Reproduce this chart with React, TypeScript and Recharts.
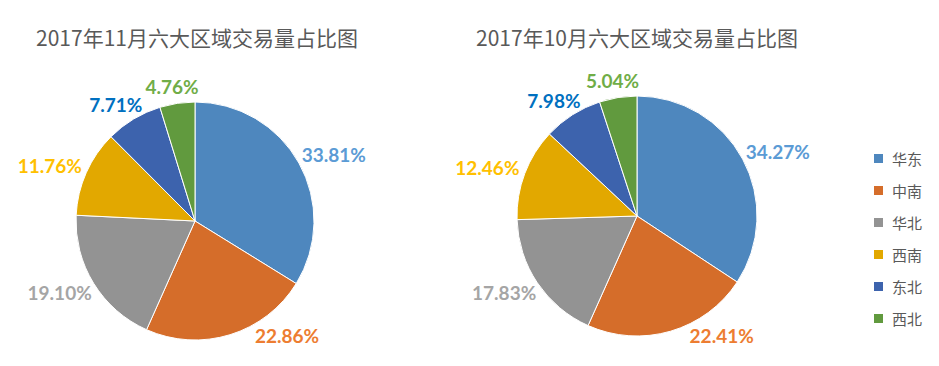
import React from 'react';
import { PieChart, Pie, Cell, Legend } from 'recharts';

// region names, in the order Excel draws them (clockwise from 12 o'clock)
const regions = ['华东', '中南', '华北', '西南', '东北', '西北'];

// share of trade volume, %
const novValues = [33.81, 22.86, 19.1, 11.76, 7.71, 4.76];
const octValues = [34.27, 22.41, 17.83, 12.46, 7.98, 5.04];

const titles = ['2017年11月六大区域交易量占比图', '2017年10月六大区域交易量占比图'];

const sliceColors = ['#4E87BE', '#D56D2A', '#939393', '#E2A800', '#3D63AD', '#619A3E'];
const labelColors = ['#5B9BD5', '#ED7D31', '#A5A5A5', '#FFC000', '#0070C0', '#70AD47'];

const RADIAN = Math.PI / 180;
const LABEL_FONT = 19;
const LABEL_BOTTOM = 335; // keep labels inside the plot area, like Excel's best fit

const toRows = (values: number[]) => regions.map((name, i) => ({ name, value: values[i] }));

// outside-end label, nudged back up along the rim when it would drop below the plot
const renderLabel = (props: any) => {
    const { cx, cy, midAngle, outerRadius, index, value } = props;
    const text = `${Number(value).toFixed(2)}%`;
    const w = text.length * LABEL_FONT * 0.56;
    const h = 18;
    const cos = Math.cos(-midAngle * RADIAN);
    const sin = Math.sin(-midAngle * RADIAN);
    const r = outerRadius + 8;
    let x = cx + r * cos + (cos * w) / 2;
    let y = cy + r * sin + (sin * h) / 2;
    if (y > LABEL_BOTTOM) {
        y = LABEL_BOTTOM;
        const dy = y - h / 2 - cy;
        const dx = Math.sqrt(Math.max(0, (outerRadius + 2) ** 2 - dy * dy));
        x = cx + (cos >= 0 ? dx + w / 2 : -dx - w / 2);
    }
    return (
        <text
            x={x}
            y={y}
            fill={labelColors[index]}
            textAnchor="middle"
            dominantBaseline="central"
            fontSize={LABEL_FONT}
            fontWeight="bold"
            fontFamily="Lato, 'Noto Sans', sans-serif"
        >
            {text}
        </text>
    );
};

const renderLegend = () => (
    <div style={{ fontFamily: "'Noto Sans CJK SC', sans-serif", fontSize: 15, color: '#595959' }}>
        {regions.map((name, i) => (
            <div key={name} style={{ display: 'flex', alignItems: 'center', height: 32 }}>
                <span style={{ width: 9, height: 9, background: sliceColors[i], marginRight: 9 }} />
                <span>{name}</span>
            </div>
        ))}
    </div>
);

const titleStyle: React.CSSProperties = {
    position: 'absolute',
    top: 22,
    fontFamily: "'Noto Sans CJK SC', sans-serif",
    fontSize: 21,
    color: '#595959',
    width: 400,
    textAlign: 'center',
    lineHeight: '30px',
};

const App: React.FC = () => {
    return (
        <div style={{ position: 'relative', width: 939, height: 366, margin: -8, background: '#fff' }}>
            <div style={{ ...titleStyle, left: -3 }}>{titles[0]}</div>
            <div style={{ ...titleStyle, left: 437 }}>{titles[1]}</div>
            <PieChart width={939} height={366} margin={{ top: 0, right: 0, bottom: 0, left: 0 }}>
                <Pie
                    data={toRows(novValues)}
                    dataKey="value"
                    nameKey="name"
                    cx={195}
                    cy={221}
                    outerRadius={119}
                    startAngle={90}
                    endAngle={-270}
                    stroke="#fff"
                    strokeWidth={1}
                    label={renderLabel}
                    labelLine={false}
                    isAnimationActive={false}
                >
                    {novValues.map((_, i) => (
                        <Cell key={i} fill={sliceColors[i]} />
                    ))}
                </Pie>
                <Pie
                    data={toRows(octValues)}
                    dataKey="value"
                    nameKey="name"
                    cx={637}
                    cy={216}
                    outerRadius={120}
                    startAngle={90}
                    endAngle={-270}
                    stroke="#fff"
                    strokeWidth={1}
                    label={renderLabel}
                    labelLine={false}
                    isAnimationActive={false}
                >
                    {octValues.map((_, i) => (
                        <Cell key={i} fill={sliceColors[i]} />
                    ))}
                </Pie>
                <Legend
                    content={renderLegend}
                    layout="vertical"
                    wrapperStyle={{ position: 'absolute', left: 874, top: 142, width: 60 }}
                />
            </PieChart>
        </div>
    );
};

export default App;
